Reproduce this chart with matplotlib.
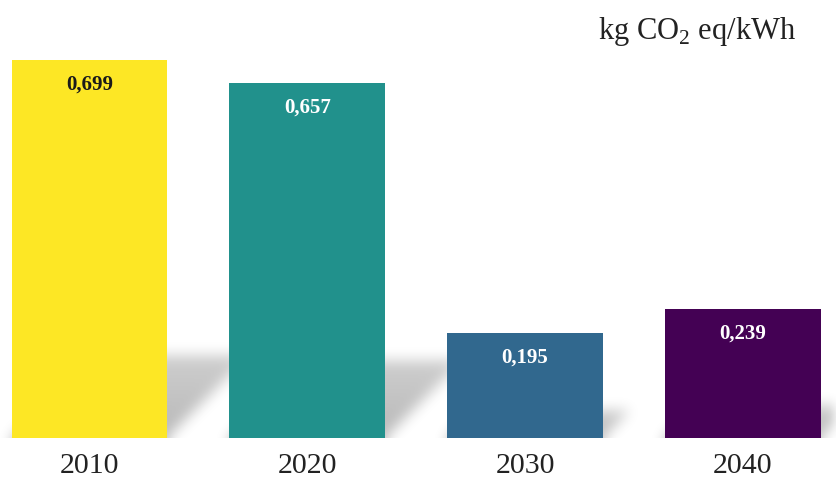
import numpy as np
import matplotlib.pyplot as plt

years = ['2010', '2020', '2030', '2040']
values = [0.699, 0.657, 0.195, 0.239]
value_labels = ['0,699', '0,657', '0,195', '0,239']
colors = ['#FDE725', '#21918C', '#31688E', '#440154']
text_colors = ['#1a1a1a', 'white', 'white', 'white']

plt.rcParams['font.family'] = 'Liberation Serif'
plt.rcParams['mathtext.fontset'] = 'custom'
plt.rcParams['mathtext.rm'] = 'Liberation Serif'

fig = plt.figure(figsize=(8.37, 4.84), dpi=100)
ax = fig.add_axes([0, 0.095, 1, 0.905])
x = np.arange(len(years))
w = 0.715
xlim = (-0.411, 3.432)
ylim = (0, 0.81)

# soft floor shadow behind each bar
nx, ny = 840, 440
gx = np.linspace(*xlim, nx)
gy = np.linspace(*ylim, ny)
X, Y = np.meshgrid(gx, gy)
shade = np.zeros_like(X)
slope = 541 / 217.8  # 45 degrees on screen
for xi, v in zip(x, values):
    h = 0.2 * v + 0.012
    dx = Y * slope
    inside = (Y <= h) & (X >= xi - w / 2 + dx) & (X <= xi + w / 2 + dx)
    shade = np.maximum(shade, inside * (1 - 0.3 * Y / h))
k = np.ones(13) / 13
shade = np.pad(shade, ((30, 0), (0, 0)), mode='edge')
for _ in range(3):
    shade = np.apply_along_axis(lambda r: np.convolve(r, k, mode='same'), 1, shade)
    shade = np.apply_along_axis(lambda c: np.convolve(c, k, mode='same'), 0, shade)
shade = shade[30:]
rgba = np.zeros((ny, nx, 4))
rgba[..., 3] = shade * 0.28
ax.imshow(rgba, extent=(*xlim, *ylim), origin='lower', aspect='auto',
          zorder=0, interpolation='bilinear')

bars = ax.bar(x, values, width=w, color=colors, zorder=2)
for b, lab, tc in zip(bars, value_labels, text_colors):
    ax.annotate(lab, (b.get_x() + b.get_width() / 2, b.get_height()),
                xytext=(0, -18), textcoords='offset points',
                ha='center', va='center', fontsize=15, fontweight='bold',
                color=tc, zorder=3)

ax.set_xlim(*xlim)
ax.set_ylim(*ylim)
ax.set_xticks(x)
ax.set_xticklabels(years, fontsize=21.5, color='#222222')
ax.tick_params(axis='x', length=0, pad=11)
ax.set_yticks([])
for s in ax.spines.values():
    s.set_visible(False)

fig.text(0.714, 0.934, r'kg CO$_2$ eq/kWh', fontsize=22, color='#222222',
         ha='left', va='center')

fig.savefig('out.png', dpi=100)
